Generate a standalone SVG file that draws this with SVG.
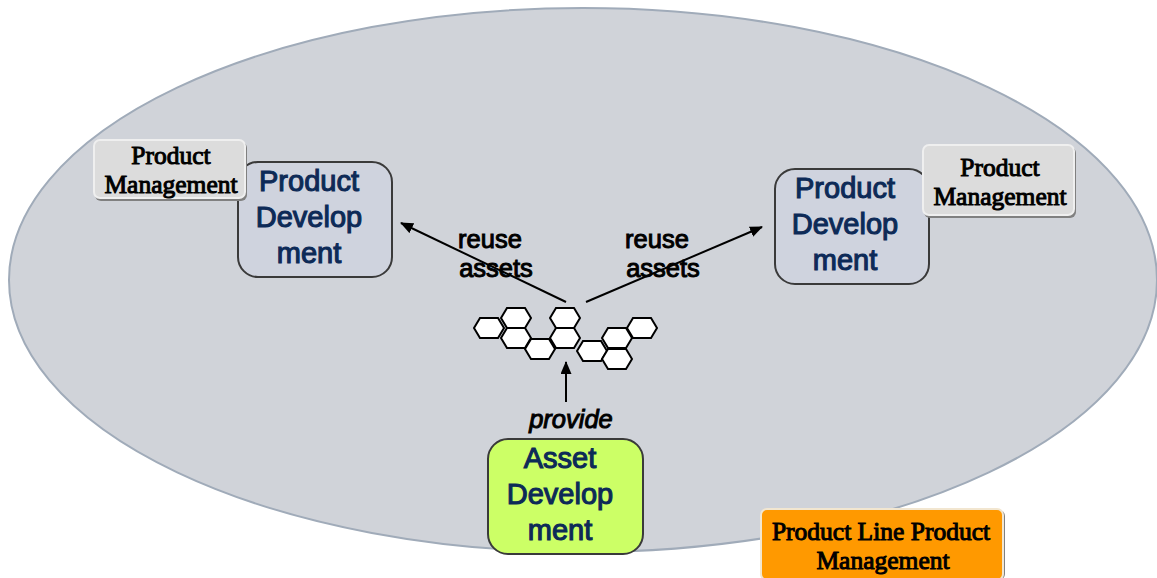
<svg xmlns="http://www.w3.org/2000/svg" width="1157" height="578" viewBox="0 0 1157 578">
<defs>
<marker id="arrow" markerUnits="userSpaceOnUse" markerWidth="13" markerHeight="11" refX="12" refY="5.5" orient="auto"><path d="M0 0L13 5.5L0 11Z" fill="#000"/></marker>
<polygon id="hex" points="-15,0 -9,-10 9,-10 15,0 9,10 -9,10" fill="#fff" stroke="#000" stroke-width="2"/>
</defs>
<style>
text{text-anchor:middle}
.sans{font-family:"Liberation Sans",Arial,sans-serif;font-size:29px;fill:#0d2a57;stroke:#0d2a57;stroke-width:1.1}
.serif{font-family:"Liberation Serif","Times New Roman",serif;font-size:25.5px;fill:#000;stroke:#000;stroke-width:1}
.lab{font-family:"Liberation Sans",Arial,sans-serif;font-size:25.5px;fill:#000;stroke:#000;stroke-width:1}
.pd{fill:#cfd3de;stroke:#3a3a3a;stroke-width:2}
.pm{fill:#dcdcdc;stroke:#efefef;stroke-width:2}
.sh{fill:#808080}
.c{fill:none;stroke:#000;stroke-width:2}
</style>
<rect width="1157" height="578" fill="#fff"/>
<g id="domain"><ellipse cx="583" cy="280" rx="574" ry="272" fill="#d0d3d9" stroke="#a0abb9" stroke-width="2"/></g>
<g id="product-dev-left">
<rect class="pd" x="238" y="162" width="154" height="115" rx="20"/>
<text class="sans" x="309" y="191">Product</text><text class="sans" x="309" y="227">Develop</text><text class="sans" x="309" y="263">ment</text>
</g>
<g id="pm-left">
<rect class="sh" x="95" y="142" width="152" height="59" rx="6"/>
<rect class="pm" x="94" y="140" width="151" height="58" rx="6"/>
<text class="serif" x="171" y="164">Product</text><text class="serif" x="171" y="193">Management</text>
</g>
<g id="product-dev-right">
<rect class="pd" x="775" y="169" width="154" height="115" rx="20"/>
<text class="sans" x="845" y="198">Product</text><text class="sans" x="845" y="234">Develop</text><text class="sans" x="845" y="270">ment</text>
</g>
<g id="pm-right">
<rect class="sh" x="924" y="147" width="152" height="71" rx="6"/>
<rect class="pm" x="923" y="145" width="151" height="70" rx="6"/>
<text class="serif" x="1000" y="176">Product</text><text class="serif" x="1000" y="205">Management</text>
</g>
<g id="assets">
<use href="#hex" x="489" y="328"/><use href="#hex" x="516" y="318"/><use href="#hex" x="516" y="338"/><use href="#hex" x="540" y="349"/><use href="#hex" x="565" y="318"/><use href="#hex" x="565" y="338"/><use href="#hex" x="592" y="351"/><use href="#hex" x="617" y="338"/><use href="#hex" x="617" y="359"/><use href="#hex" x="642" y="328"/>
</g>
<g id="connectors">
<line class="c" x1="566" y1="302" x2="401" y2="223" marker-end="url(#arrow)"/>
<line class="c" x1="586" y1="302" x2="762" y2="227" marker-end="url(#arrow)"/>
<line class="c" x1="566" y1="402" x2="566" y2="362" marker-end="url(#arrow)"/>
</g>
<g id="labels">
<text class="lab" x="490" y="248">reuse</text><text class="lab" x="496" y="277">assets</text>
<text class="lab" x="657" y="248">reuse</text><text class="lab" x="663" y="277">assets</text>
<text class="lab" x="571" y="428" font-style="italic">provide</text>
</g>
<g id="asset-dev">
<rect x="488" y="439" width="155" height="115" rx="20" fill="#ccff66" stroke="#3a3a3a" stroke-width="2"/>
<text class="sans" x="560" y="468">Asset</text><text class="sans" x="560" y="504">Develop</text><text class="sans" x="560" y="540">ment</text>
</g>
<g id="plpm">
<rect class="sh" x="762" y="510" width="243" height="70" rx="6"/>
<rect x="761" y="509" width="242" height="71" rx="6" fill="#ff9900" stroke="#f2e6d0" stroke-width="2"/>
<text class="serif" x="881" y="540">Product Line Product</text><text class="serif" x="883" y="569">Management</text>
</g>
</svg>
